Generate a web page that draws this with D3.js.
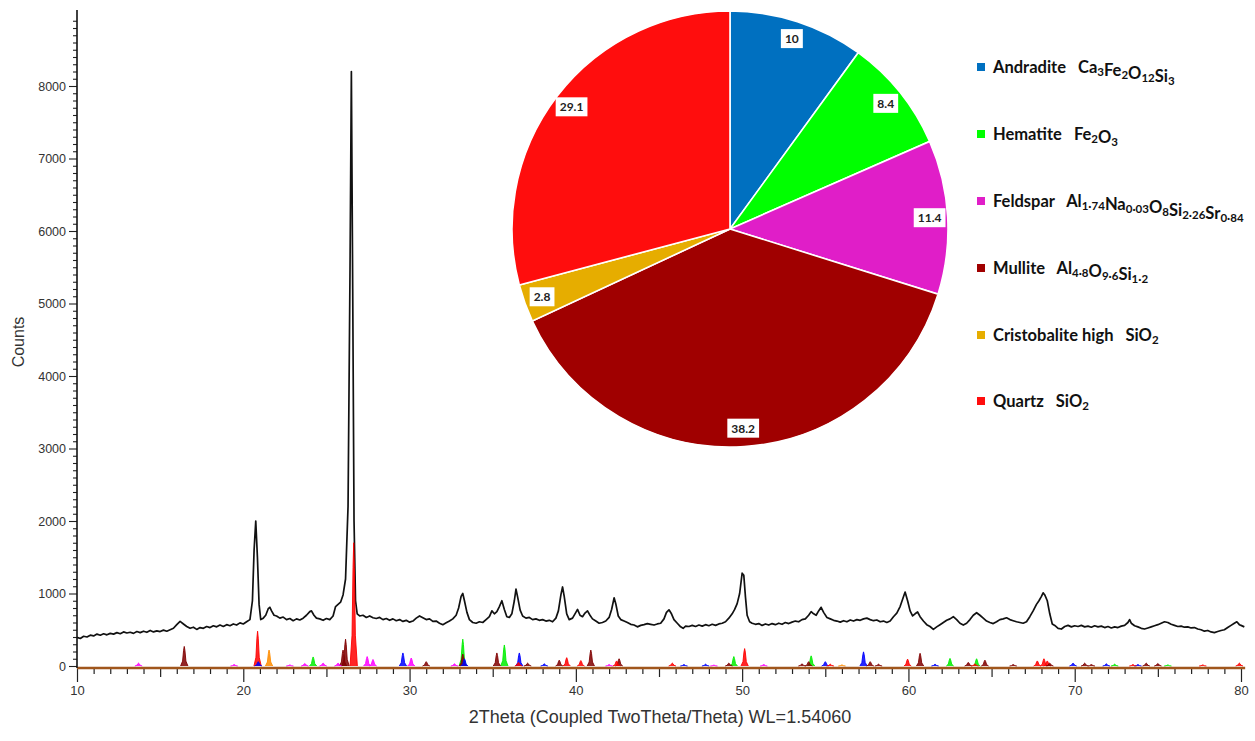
<!DOCTYPE html>
<html>
<head>
<meta charset="utf-8">
<script src="https://cdn.jsdelivr.net/npm/d3@7/dist/d3.min.js"></script>
<style>
  html, body { margin: 0; padding: 0; background: #fff; }
  svg { display: block; }
  .legend text { white-space: pre; }
</style>
</head>
<body>
<svg id="chart" width="1255" height="741"></svg>
<script>
// ---- Measured XRD pattern: [2theta (deg), counts] ----
const pattern = [
  [10.0,395],[10.2,380],[10.4,410],[10.6,400],[10.8,425],[11.0,415],[11.2,440],[11.4,425],[11.6,445],[11.8,430],
  [12.0,450],[12.2,440],[12.4,460],[12.6,445],[12.8,470],[13.0,455],[13.2,465],[13.4,450],[13.6,475],[13.8,460],
  [14.0,480],[14.2,465],[14.4,490],[14.6,470],[14.8,485],[15.0,475],[15.2,495],[15.4,480],[15.6,500],[15.8,520],
  [16.0,570],[16.2,615],[16.4,580],[16.6,545],[16.8,520],[17.0,535],[17.2,505],[17.4,530],[17.6,520],[17.8,545],
  [18.0,530],[18.2,555],[18.4,540],[18.6,565],[18.8,545],[19.0,570],[19.2,555],[19.4,580],[19.6,565],[19.8,595],
  [20.0,580],[20.2,610],[20.4,640],[20.55,900],[20.65,1600],[20.75,2000],[20.85,1500],[20.95,850],[21.05,640],
  [21.2,660],[21.35,700],[21.5,790],[21.6,810],[21.7,760],[21.85,700],[22.0,690],[22.2,660],[22.4,675],[22.6,640],
  [22.8,655],[23.0,625],[23.2,650],[23.4,635],[23.6,660],[23.8,700],[24.0,750],[24.1,760],[24.25,700],[24.4,660],
  [24.6,650],[24.8,630],[25.0,655],[25.2,640],[25.4,690],[25.55,820],[25.7,850],[25.85,880],[26.0,980],[26.15,1200],
  [26.3,2200],[26.42,5500],[26.5,8200],[26.58,5200],[26.66,2000],[26.75,900],[26.85,720],[27.0,690],[27.2,700],
  [27.4,670],[27.6,690],[27.8,665],[28.0,655],[28.2,670],[28.4,640],[28.6,655],[28.8,630],[29.0,650],[29.2,625],
  [29.4,640],[29.6,615],[29.8,630],[30.0,605],[30.2,620],[30.4,660],[30.6,690],[30.8,665],[31.0,640],[31.2,650],
  [31.4,615],[31.6,620],[31.8,590],[32.0,570],[32.2,595],[32.4,620],[32.6,650],[32.8,700],[32.95,800],[33.1,960],
  [33.2,1000],[33.3,900],[33.45,740],[33.6,640],[33.8,600],[34.0,590],[34.2,610],[34.4,600],[34.6,640],[34.8,680],
  [34.95,760],[35.1,720],[35.25,750],[35.4,820],[35.55,900],[35.7,780],[35.85,680],[36.0,670],[36.15,720],[36.3,900],
  [36.4,1060],[36.5,950],[36.65,770],[36.8,690],[37.0,660],[37.2,670],[37.4,640],[37.6,650],[37.8,630],[38.0,640],
  [38.2,620],[38.4,630],[38.6,610],[38.8,660],[38.95,760],[39.1,980],[39.2,1090],[39.3,960],[39.45,720],[39.6,640],
  [39.8,660],[40.0,740],[40.1,780],[40.25,700],[40.4,680],[40.55,730],[40.7,760],[40.85,700],[41.0,650],[41.2,620],
  [41.4,590],[41.6,600],[41.8,620],[42.0,670],[42.15,780],[42.3,940],[42.4,860],[42.55,690],[42.7,640],[42.9,620],
  [43.1,600],[43.3,575],[43.5,565],[43.7,540],[43.9,560],[44.1,570],[44.3,585],[44.5,575],[44.7,565],[44.9,580],
  [45.1,590],[45.3,650],[45.45,740],[45.6,775],[45.75,720],[45.9,640],[46.1,590],[46.3,540],[46.45,520],[46.6,550],
  [46.8,545],[47.0,560],[47.2,545],[47.4,565],[47.6,550],[47.8,570],[48.0,555],[48.2,575],[48.4,560],[48.6,580],
  [48.8,590],[49.0,610],[49.2,660],[49.4,720],[49.55,780],[49.7,860],[49.85,1000],[50.0,1280],[50.1,1250],[50.2,950],
  [50.3,700],[50.45,610],[50.6,590],[50.8,575],[51.0,585],[51.2,560],[51.4,580],[51.6,565],[51.8,585],[52.0,570],
  [52.2,590],[52.4,575],[52.6,600],[52.8,585],[53.0,605],[53.2,620],[53.4,610],[53.6,640],[53.8,650],[54.0,700],
  [54.15,750],[54.3,720],[54.45,700],[54.6,760],[54.75,810],[54.9,740],[55.1,670],[55.3,650],[55.5,630],[55.7,620],
  [55.9,605],[56.1,625],[56.3,610],[56.5,635],[56.7,620],[56.9,640],[57.1,630],[57.3,650],[57.5,660],[57.7,640],
  [57.9,625],[58.1,635],[58.3,610],[58.5,620],[58.7,600],[58.9,620],[59.1,680],[59.3,730],[59.5,820],[59.65,920],
  [59.8,1020],[59.95,900],[60.1,760],[60.25,690],[60.4,720],[60.55,745],[60.7,680],[60.9,620],[61.1,570],[61.3,545],
  [61.5,505],[61.7,540],[61.9,570],[62.1,600],[62.3,630],[62.5,650],[62.7,680],[62.9,640],[63.1,590],[63.3,565],
  [63.5,590],[63.7,640],[63.9,700],[64.1,735],[64.3,700],[64.5,660],[64.7,620],[64.9,600],[65.1,585],[65.3,610],
  [65.5,640],[65.7,650],[65.9,665],[66.1,640],[66.3,625],[66.5,610],[66.7,600],[66.9,590],[67.1,610],[67.3,680],
  [67.5,760],[67.7,850],[67.85,900],[68.0,960],[68.1,1010],[68.2,980],[68.35,900],[68.5,720],[68.65,580],[68.8,560],
  [69.0,520],[69.2,510],[69.4,545],[69.6,560],[69.8,540],[70.0,555],[70.2,545],[70.4,560],[70.6,540],[70.8,550],
  [71.0,535],[71.2,555],[71.4,540],[71.6,550],[71.8,530],[72.0,545],[72.2,525],[72.4,540],[72.6,530],[72.8,550],
  [73.0,560],[73.2,600],[73.3,640],[73.4,590],[73.6,555],[73.8,540],[74.0,520],[74.2,510],[74.4,525],[74.6,540],
  [74.8,555],[75.0,570],[75.2,590],[75.4,610],[75.6,600],[75.8,575],[76.0,560],[76.2,545],[76.4,550],[76.6,535],
  [76.8,540],[77.0,525],[77.2,530],[77.4,510],[77.6,500],[77.8,480],[78.0,490],[78.2,470],[78.4,460],[78.6,475],
  [78.8,490],[79.0,500],[79.2,530],[79.4,560],[79.6,590],[79.75,610],[79.9,570],[80.0,560],[80.2,540]
];

// ---- Reference line patterns per phase: [2theta, height in counts] ----
const andraditeLines = [[20.9,60],[29.6,180],[33.3,100],[36.6,180],[38.1,30],[46.5,20],[47.8,25],[55.0,60],[57.3,195],[61.6,25],[69.9,40],[71.9,30],[73.8,20]];
const hematiteLines = [[24.2,125],[33.2,370],[35.7,290],[49.5,130],[54.15,140],[62.5,105],[64.1,100],[72.4,25],[75.6,15]];
const feldsparLines = [[13.7,40],[19.45,20],[22.8,15],[23.7,35],[24.8,40],[25.7,40],[27.45,130],[27.8,90],[30.1,110],[32.7,30],[42.0,20],[48.3,12],[51.3,20]];
const mulliteLines = [[16.45,270],[26.0,220],[26.15,370],[31.0,60],[33.2,165],[35.25,180],[37.1,40],[39.0,80],[40.9,220],[42.6,100],[49.2,40],[53.6,30],[54.0,60],[57.7,60],[58.2,25],[60.7,175],[63.6,50],[64.6,80],[66.3,20],[68.5,40],[70.6,40],[71.0,20],[74.3,40],[75.0,35]];
const cristobaliteLines = [[21.55,220],[56.0,15]];
const quartzLines = [[20.86,480],[26.64,1700],[36.55,50],[39.45,115],[40.3,75],[42.45,70],[45.8,40],[50.15,240],[55.3,25],[59.95,95],[64.0,30],[67.75,70],[68.15,100],[68.35,70],[73.5,20],[77.7,15],[79.9,40]];
const lineColors = ["#0000ff","#00ee00","#ff00ff","#800000","#ff8c00","#ff0000"];

// ---- Phase composition (wt %) ----
const phaseNames = ["Andradite","Hematite","Feldspar","Mullite","Cristobalite high","Quartz"];
// formula pieces: [text, isSubscript]
const phaseFormulas = [
  [["Ca",0],["3",1],["Fe",0],["2",1],["O",0],["12",1],["Si",0],["3",1]],
  [["Fe",0],["2",1],["O",0],["3",1]],
  [["Al",0],["1·74",1],["Na",0],["0·03",1],["O",0],["8",1],["Si",0],["2·26",1],["Sr",0],["0·84",1]],
  [["Al",0],["4·8",1],["O",0],["9·6",1],["Si",0],["1·2",1]],
  [["SiO",0],["2",1]],
  [["SiO",0],["2",1]]
];
const phaseShares = [10, 8.4, 11.4, 38.2, 2.8, 29.1];
const pieColors = ["#0070c0","#00ff00","#e01ec8","#a00000","#e6ad00","#ff0d0d"];

// ---- Axis tick values ----
const xMajorTicks = [10,20,30,40,50,60,70,80];
const yMajorTicks = [0,1000,2000,3000,4000,5000,6000,7000,8000];

const svg = d3.select("#chart");

const x = d3.scaleLinear().domain([10, 80]).range([77, 1241]);
const y = d3.scaleLinear().domain([0, 8000]).range([666, 86]);

// ---------- XRD plot ----------
const plot = svg.append("g");

// measured pattern
plot.append("path")
  .datum(pattern)
  .attr("fill", "none")
  .attr("stroke", "#111")
  .attr("stroke-width", 1.7)
  .attr("stroke-linejoin", "round")
  .attr("d", d3.line().x(d => x(d[0])).y(d => y(d[1])));

// phase reference peaks, tallest first so small ones stay visible
const allLines = [];
[andraditeLines, hematiteLines, feldsparLines, mulliteLines, cristobaliteLines, quartzLines]
  .forEach((set, i) => set.forEach(p => allLines.push({pos: p[0], h: p[1], color: lineColors[i]})));
allLines.sort((a, b) => b.h - a.h);

const peakShape = d => {
  const p = d.pos, h = d.h;
  return [[p-0.22,0],[p-0.1,0.25*h],[p-0.04,0.8*h],[p,h],[p+0.04,0.8*h],[p+0.1,0.25*h],[p+0.22,0]];
};
const peakLine = d3.line().x(d => x(d[0])).y(d => y(d[1]));
plot.append("g").selectAll("path")
  .data(allLines)
  .join("path")
  .attr("d", d => peakLine(peakShape(d)))
  .attr("fill", d => d.color)
  .attr("fill-opacity", 0.85)
  .attr("stroke", d => d.color)
  .attr("stroke-width", 0.9);

// ---- x axis (baseline with minor / medium / major ticks) ----
const axisY = 668;
const xInts = d3.range(10, 81);
const xMinor = xInts.filter(v => v % 5 !== 0);
const xMedium = xInts.filter(v => v % 5 === 0 && v % 10 !== 0);

const xAxisG = svg.append("g").attr("transform", `translate(0,${axisY})`);
xAxisG.append("g").call(d3.axisBottom(x).tickValues(xMinor).tickSize(6).tickFormat(""));
xAxisG.append("g").call(d3.axisBottom(x).tickValues(xMedium).tickSize(9).tickFormat(""));
xAxisG.append("g").call(d3.axisBottom(x).tickValues(xMajorTicks).tickSize(14).tickPadding(4).tickFormat(d3.format("d")));
xAxisG.selectAll(".domain").remove();
xAxisG.selectAll(".tick line").attr("stroke", "#222").attr("stroke-width", 1.2);
xAxisG.selectAll(".tick text")
  .attr("font-family", "'Liberation Sans', Arial, sans-serif")
  .attr("font-size", 13)
  .attr("fill", "#333");
// brown baseline
svg.append("line")
  .attr("x1", x(10)).attr("x2", x(80.25))
  .attr("y1", axisY).attr("y2", axisY)
  .attr("stroke", "#a0561c").attr("stroke-width", 2.5);

// ---- y axis ----
const yMinor = d3.range(0, 9100, 100).filter(v => v % 1000 !== 0);
const yAxisG = svg.append("g").attr("transform", `translate(${x(10)},0)`);
yAxisG.append("g").call(d3.axisLeft(y).tickValues(yMinor).tickSize(4).tickFormat(""));
yAxisG.append("g").call(d3.axisLeft(y).tickValues(yMajorTicks).tickSize(8).tickPadding(3).tickFormat(d3.format("d")));
yAxisG.selectAll(".domain").remove();
yAxisG.selectAll(".tick line").attr("stroke", "#222").attr("stroke-width", 1.1);
yAxisG.selectAll(".tick text")
  .attr("font-family", "'Liberation Sans', Arial, sans-serif")
  .attr("font-size", 12.5)
  .attr("fill", "#333");
svg.append("line")
  .attr("x1", x(10)).attr("x2", x(10))
  .attr("y1", y(9050)).attr("y2", axisY)
  .attr("stroke", "#111").attr("stroke-width", 1.6);

// axis titles
svg.append("text")
  .attr("x", 660).attr("y", 723)
  .attr("text-anchor", "middle")
  .attr("font-family", "'Liberation Sans', Arial, sans-serif")
  .attr("font-size", 18)
  .attr("fill", "#333")
  .text("2Theta (Coupled TwoTheta/Theta) WL=1.54060");
svg.append("text")
  .attr("transform", "translate(24,342) rotate(-90)")
  .attr("text-anchor", "middle")
  .attr("font-family", "'Liberation Sans', Arial, sans-serif")
  .attr("font-size", 16)
  .attr("fill", "#333")
  .text("Counts");

// ---------- Composition pie ----------
const cx = 730, cy = 229, R = 218;
const pie = d3.pie().sort(null).value(d => d)(phaseShares);
const arc = d3.arc().innerRadius(0).outerRadius(R);
const labelArc = d3.arc().innerRadius(R * 0.917).outerRadius(R * 0.917);

const pieG = svg.append("g").attr("transform", `translate(${cx},${cy})`);
pieG.selectAll("path")
  .data(pie)
  .join("path")
  .attr("d", arc)
  .attr("fill", (d, i) => pieColors[i])
  .attr("stroke", "#fff")
  .attr("stroke-width", 1.6);

const lbl = pieG.selectAll("g.lbl")
  .data(pie)
  .join("g")
  .attr("class", "lbl")
  .attr("transform", d => `translate(${labelArc.centroid(d)})`);
lbl.append("text")
  .attr("text-anchor", "middle")
  .attr("dy", "0.35em")
  .attr("font-family", "Lato, 'Open Sans', sans-serif")
  .attr("font-weight", 700)
  .attr("font-size", 12)
  .attr("fill", "#222")
  .text(d => d3.format("~")(d.data));
lbl.each(function() {
  const g = d3.select(this);
  const bb = g.select("text").node().getBBox();
  g.insert("rect", "text")
    .attr("x", bb.x - 4).attr("y", bb.y - 2)
    .attr("width", bb.width + 8).attr("height", bb.height + 4)
    .attr("fill", "#fff");
});

// ---------- Legend ----------
const legendRows = [67, 134, 201, 268, 335, 401];
const legend = svg.append("g").attr("class", "legend");
phaseNames.forEach((name, i) => {
  const row = legend.append("g").attr("transform", `translate(977,${legendRows[i]})`);
  row.append("rect")
    .attr("x", 0).attr("y", -4).attr("width", 8).attr("height", 8)
    .attr("fill", pieColors[i]);
  const t = row.append("text")
    .attr("x", 16).attr("y", 5.5)
    .attr("font-family", "Lato, 'Open Sans', sans-serif")
    .attr("font-weight", 700)
    .attr("font-size", 16.5)
    .attr("fill", "#111")
    .style("white-space", "pre");
  t.append("tspan").text(name + "   ");
  phaseFormulas[i].forEach(([s, sub]) => {
    if (sub) {
      t.append("tspan").attr("font-size", 11.5).attr("dy", 3).text(s);
      t.append("tspan").attr("dy", -3).text("");
    } else {
      t.append("tspan").text(s);
    }
  });
});
</script>
</body>
</html>
